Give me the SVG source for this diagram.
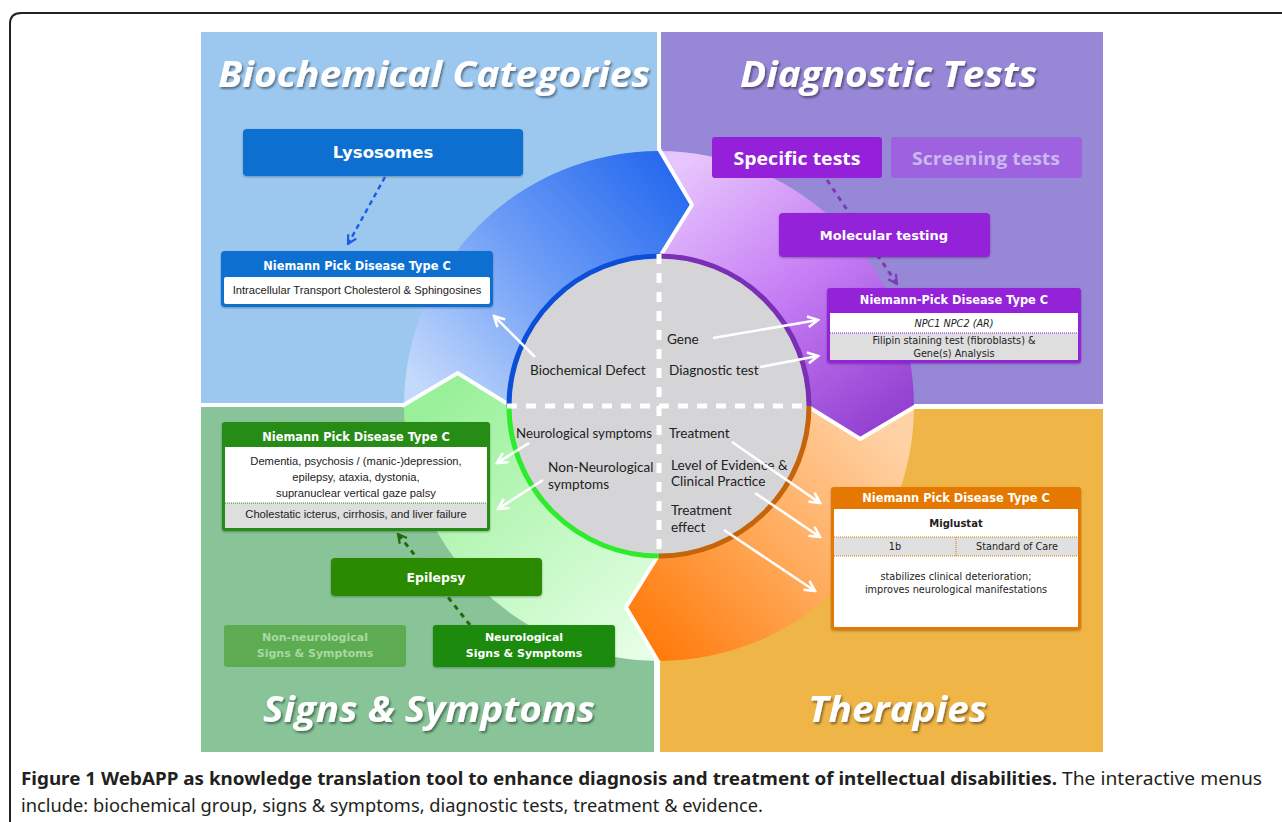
<svg xmlns="http://www.w3.org/2000/svg" width="1282" height="822" viewBox="0 0 1282 822">
<defs>
<style>
.title{font-family:"Open Sans","DejaVu Sans",sans-serif;font-weight:bold;font-style:italic;font-size:35px;fill:#fff;filter:url(#ts)}
.lbl{font-family:Lato,"Open Sans",sans-serif;font-size:13.6px;fill:#222}
.hdr{font-family:"DejaVu Sans",sans-serif;font-weight:bold;font-size:11.4px;fill:#fff;text-anchor:middle}
.btn{font-family:"DejaVu Sans",sans-serif;font-weight:bold;fill:#fff;text-anchor:middle}
.body{font-family:"Liberation Sans",Arial,sans-serif;font-size:11.2px;fill:#222;text-anchor:middle}
.vbody{font-family:"DejaVu Sans",sans-serif;font-size:9.7px;fill:#222;text-anchor:middle}
.warr{fill:none;stroke:#fff;stroke-width:2.6;marker-end:url(#aw)}
.chev{fill:none;stroke:#fff;stroke-width:4;stroke-linejoin:miter}
.dash{fill:none;stroke:#fff;stroke-width:5;stroke-dasharray:10 9}
.cap{font-family:"Noto Sans","Open Sans",sans-serif;font-size:18px;fill:#231f20}
</style>
<filter id="ts" x="-5%" y="-20%" width="110%" height="150%">
<feDropShadow dx="1.5" dy="2" stdDeviation="1.2" flood-color="#000" flood-opacity="0.45"/>
</filter>
<filter id="bs" x="-5%" y="-10%" width="110%" height="130%">
<feDropShadow dx="0" dy="1" stdDeviation="1" flood-color="#000" flood-opacity="0.3"/>
</filter>
<linearGradient id="gBlue" gradientUnits="userSpaceOnUse" x1="430" y1="400" x2="680" y2="170">
<stop offset="0" stop-color="#C4DAFB"/><stop offset="0.5" stop-color="#6C9CF6"/><stop offset="1" stop-color="#2468EE"/>
</linearGradient>
<linearGradient id="gPurple" gradientUnits="userSpaceOnUse" x1="680" y1="170" x2="880" y2="430">
<stop offset="0" stop-color="#E6C4FC"/><stop offset="0.5" stop-color="#C57CF4"/><stop offset="1" stop-color="#9240D0"/>
</linearGradient>
<linearGradient id="gOrange" gradientUnits="userSpaceOnUse" x1="880" y1="420" x2="640" y2="640">
<stop offset="0" stop-color="#FFD2A6"/><stop offset="0.5" stop-color="#FFAA5A"/><stop offset="1" stop-color="#FF7A0A"/>
</linearGradient>
<linearGradient id="gGreen" gradientUnits="userSpaceOnUse" x1="440" y1="390" x2="660" y2="650">
<stop offset="0" stop-color="#98F098"/><stop offset="1" stop-color="#E8FFE8"/>
</linearGradient>
<marker id="aw" viewBox="0 0 12 12" refX="10.5" refY="6" markerWidth="13" markerHeight="13" markerUnits="userSpaceOnUse" orient="auto">
<path d="M1,1 L10.5,6 L1,11" fill="none" stroke="#fff" stroke-width="2.4"/>
</marker>
<marker id="ab" viewBox="0 0 12 12" refX="10.5" refY="6" markerWidth="11" markerHeight="11" markerUnits="userSpaceOnUse" orient="auto">
<path d="M1,1 L10.5,6 L1,11" fill="none" stroke="#1F5CE6" stroke-width="2.4"/>
</marker>
<marker id="ap" viewBox="0 0 12 12" refX="10.5" refY="6" markerWidth="11" markerHeight="11" markerUnits="userSpaceOnUse" orient="auto">
<path d="M1,1 L10.5,6 L1,11" fill="none" stroke="#7E3CB4" stroke-width="2.4"/>
</marker>
<marker id="ag" viewBox="0 0 12 12" refX="10.5" refY="6" markerWidth="11" markerHeight="11" markerUnits="userSpaceOnUse" orient="auto">
<path d="M1,1 L10.5,6 L1,11" fill="none" stroke="#1E6B10" stroke-width="2.4"/>
</marker>
</defs>

<rect width="1282" height="822" fill="#fff"/>
<path d="M10,822 V24 Q10,13 21,13 H1282" fill="none" stroke="#222" stroke-width="2"/>

<g id="panels">
<rect x="201" y="32" width="456" height="371" fill="#9CC8F0"/>
<rect x="661" y="32" width="442" height="372" fill="#9787D7"/>
<rect x="201" y="407" width="453" height="345" fill="#88C498"/>
<rect x="660" y="409" width="443" height="343" fill="#EFB547"/>
</g>

<g id="ring">
<path d="M404,406 L457.7,373 L509,406 A150,150 0 0 1 659,256 L692,204.7 L659,151 A255,255 0 0 0 404,406 Z" fill="url(#gBlue)"/>
<path d="M659,151 L692,204.7 L659,256 A150,150 0 0 1 809,406 L860.3,439 L914,406 A255,255 0 0 0 659,151 Z" fill="url(#gPurple)"/>
<path d="M914,406 L860.3,439 L809,406 A150,150 0 0 1 659,556 L626,607.3 L659,661 A255,255 0 0 0 914,406 Z" fill="url(#gOrange)"/>
<path d="M659,661 L626,607.3 L659,556 A150,150 0 0 1 509,406 L457.7,373 L404,406 A255,255 0 0 0 659,661 Z" fill="url(#gGreen)"/>
<polyline class="chev" points="402,406 457.7,373 511,406"/>
<polyline class="chev" points="659,149 692,204.7 659,258"/>
<polyline class="chev" points="807,406 860.3,439 916,406"/>
<polyline class="chev" points="659,554 626,607.3 659,663"/>
</g>

<g id="hub">
<circle cx="659" cy="406" r="151" fill="#D5D5D7"/>
<path d="M509,406 A150,150 0 0 1 659,256" fill="none" stroke="#0B4FD9" stroke-width="5"/>
<path d="M659,256 A150,150 0 0 1 809,406" fill="none" stroke="#7A2FB5" stroke-width="5"/>
<path d="M809,406 A150,150 0 0 1 659,556" fill="none" stroke="#C4650C" stroke-width="5"/>
<path d="M659,556 A150,150 0 0 1 509,406" fill="none" stroke="#2DEB2D" stroke-width="5"/>
<path class="dash" d="M507,406 H811"/>
<path class="dash" d="M659,254 V558"/>
<text class="lbl" x="530" y="375">Biochemical Defect</text>
<text class="lbl" x="667" y="344">Gene</text>
<text class="lbl" x="669" y="375">Diagnostic test</text>
<text class="lbl" x="516" y="438" textLength="136" lengthAdjust="spacingAndGlyphs">Neurological symptoms</text>
<text class="lbl" x="548" y="472">Non-Neurological</text>
<text class="lbl" x="548" y="489">symptoms</text>
<text class="lbl" x="669" y="438">Treatment</text>
<text class="lbl" x="671" y="470">Level of Evidence &amp;</text>
<text class="lbl" x="671" y="486">Clinical Practice</text>
<text class="lbl" x="671" y="515">Treatment</text>
<text class="lbl" x="671" y="532">effect</text>
</g>

<g id="connectors">
<path class="warr" d="M535,357 L494,316"/>
<path class="warr" d="M713,338 L818,320"/>
<path class="warr" d="M760,367 L818,356"/>
<path class="warr" d="M529,443 L497,463"/>
<path class="warr" d="M543,480 L498,509"/>
<path class="warr" d="M732,442 L820,503"/>
<path class="warr" d="M755,493 L820,537"/>
<path class="warr" d="M724,530 L815,591"/>
<path d="M385,177 L348,244" fill="none" stroke="#1F5CE6" stroke-width="2.5" stroke-dasharray="5 4" marker-end="url(#ab)"/>
<path d="M827,180 L897,284" fill="none" stroke="#7E3CB4" stroke-width="3" stroke-dasharray="5 5" marker-end="url(#ap)"/>
<path d="M470,625 L398,534" fill="none" stroke="#1E6B10" stroke-width="3" stroke-dasharray="5 5" marker-end="url(#ag)"/>
</g>

<g id="title-biochemical"><text class="title" x="218" y="87" textLength="432" lengthAdjust="spacingAndGlyphs">Biochemical Categories</text></g>
<g id="title-diagnostic"><text class="title" x="740" y="87" textLength="297" lengthAdjust="spacingAndGlyphs">Diagnostic Tests</text></g>
<g id="title-signs"><text class="title" x="263" y="722" textLength="332" lengthAdjust="spacingAndGlyphs">Signs &amp; Symptoms</text></g>
<g id="title-therapies"><text class="title" x="808" y="722" textLength="179" lengthAdjust="spacingAndGlyphs">Therapies</text></g>

<g id="lysosomes">
<rect x="243" y="129" width="280" height="47" rx="4" fill="#0C6FD1" filter="url(#bs)"/>
<text class="btn" x="383" y="158" font-size="16.5">Lysosomes</text>
</g>

<g id="npc-biochemical">
<rect x="221" y="251" width="272" height="56" rx="4" fill="#0C6FD1" filter="url(#bs)"/>
<rect x="224" y="277" width="266" height="27" rx="2" fill="#fff"/>
<text class="hdr" x="357" y="270">Niemann Pick Disease Type C</text>
<text class="body" x="357" y="294">Intracellular Transport Cholesterol &amp; Sphingosines</text>
</g>

<g id="specific-tests">
<rect x="712" y="137" width="170" height="41" rx="3" fill="#9421D9"/>
<text x="797" y="165" text-anchor="middle" font-family="Open Sans, DejaVu Sans, sans-serif" font-weight="bold" font-size="18" fill="#fff" textLength="127" lengthAdjust="spacingAndGlyphs">Specific tests</text>
</g>

<g id="screening-tests">
<rect x="891" y="137" width="191" height="41" rx="3" fill="#9E62E0"/>
<text x="986" y="165" text-anchor="middle" font-family="Open Sans, DejaVu Sans, sans-serif" font-weight="bold" font-size="18" fill="#C9B9EE" textLength="148" lengthAdjust="spacingAndGlyphs">Screening tests</text>
</g>

<g id="molecular-testing">
<rect x="779" y="213" width="211" height="44" rx="4" fill="#9421D9" filter="url(#bs)"/>
<text class="btn" x="884" y="240" font-size="13">Molecular testing</text>
</g>

<g id="npc-diagnostic">
<rect x="827" y="288" width="254" height="75" rx="3" fill="#9421D9" filter="url(#bs)"/>
<rect x="830" y="313" width="248" height="20" fill="#fff"/>
<rect x="830" y="333" width="248" height="27" fill="#DEDEDE"/>
<path d="M830,333 H1078" stroke="#9421D9" stroke-width="1" stroke-dasharray="1 1"/>
<text class="hdr" x="954" y="304" font-size="11">Niemann-Pick Disease Type C</text>
<text class="vbody" x="954" y="327" font-size="10" font-style="italic">NPC1 NPC2 (AR)</text>
<text class="vbody" x="954" y="344" font-size="10">Filipin staining test (fibroblasts) &amp;</text>
<text class="vbody" x="954" y="357" font-size="10">Gene(s) Analysis</text>
</g>

<g id="npc-signs">
<rect x="222" y="422" width="268" height="109" rx="3" fill="#268C12" filter="url(#bs)"/>
<rect x="225" y="447" width="262" height="56" fill="#fff"/>
<rect x="225" y="503" width="262" height="25" fill="#DEDEDE"/>
<path d="M225,503 H487" stroke="#268C12" stroke-width="1" stroke-dasharray="1 1"/>
<text class="hdr" x="356" y="441">Niemann Pick Disease Type C</text>
<text class="body" x="356" y="465">Dementia, psychosis / (manic-)depression,</text>
<text class="body" x="356" y="481">epilepsy, ataxia, dystonia,</text>
<text class="body" x="356" y="497">supranuclear vertical gaze palsy</text>
<text class="body" x="356" y="518">Cholestatic icterus, cirrhosis, and liver failure</text>
</g>

<g id="epilepsy">
<rect x="331" y="558" width="211" height="38" rx="4" fill="#2A8A06" filter="url(#bs)"/>
<text class="btn" x="436" y="582" font-size="12.5">Epilepsy</text>
</g>

<g id="non-neurological">
<rect x="224" y="625" width="182" height="42" rx="3" fill="#5EAC52"/>
<text class="btn" x="315" y="641" font-size="11" style="fill:#A9D9A2">Non-neurological</text>
<text class="btn" x="315" y="657" font-size="11" style="fill:#A9D9A2">Signs &amp; Symptoms</text>
</g>

<g id="neurological">
<rect x="433" y="625" width="182" height="42" rx="3" fill="#1F8A0E" filter="url(#bs)"/>
<text class="btn" x="524" y="641" font-size="11">Neurological</text>
<text class="btn" x="524" y="657" font-size="11">Signs &amp; Symptoms</text>
</g>

<g id="npc-therapies">
<rect x="831" y="487" width="250" height="143" rx="3" fill="#E47800" filter="url(#bs)"/>
<rect x="834" y="509" width="244" height="118" fill="#fff"/>
<rect x="834" y="537" width="244" height="19" fill="#E0E0E0"/>
<path d="M834,537 H1078 M834,556 H1078 M956,537 V556" stroke="#E47800" stroke-width="1" stroke-dasharray="1 1"/>
<text class="hdr" x="956" y="502" font-size="10.8">Niemann Pick Disease Type C</text>
<text class="vbody" x="956" y="527" font-weight="bold" style="font-size:10px">Miglustat</text>
<text class="vbody" x="895" y="550">1b</text>
<text class="vbody" x="1017" y="550">Standard of Care</text>
<text class="vbody" x="956" y="580">stabilizes clinical deterioration;</text>
<text class="vbody" x="956" y="593">improves neurological manifestations</text>
</g>

<g id="caption">
<text class="cap" x="21" y="785" font-weight="bold" textLength="1036" lengthAdjust="spacingAndGlyphs">Figure 1 WebAPP as knowledge translation tool to enhance diagnosis and treatment of intellectual disabilities.</text>
<text class="cap" x="1062" y="785" textLength="200" lengthAdjust="spacingAndGlyphs" fill="#333">The interactive menus</text>
<text class="cap" x="21" y="812" textLength="742" lengthAdjust="spacingAndGlyphs" fill="#333">include: biochemical group, signs &amp; symptoms, diagnostic tests, treatment &amp; evidence.</text>
</g>
</svg>
